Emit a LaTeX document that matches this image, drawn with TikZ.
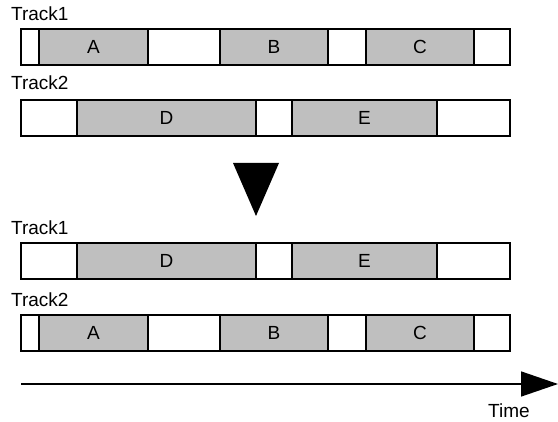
\documentclass[tikz,border=0pt]{standalone}
\usepackage{fontspec}
\setmainfont{Liberation Sans}
\usepackage{tikz}
\usetikzlibrary{arrows.meta}

% segments of a track: left/right/fill/label
\newcommand{\segsABC}{21/39/white/{}, 39/148/black!25/A, 148/220/white/{},
  220/328/black!25/B, 328/366/white/{}, 366/474/black!25/C, 474/510/white/{}}
\newcommand{\segsDE}{21/77/white/{}, 77/256/black!25/D, 256/292/white/{},
  292/437/black!25/E, 437/510/white/{}}

\begin{document}
\begin{tikzpicture}[x=1pt, y=-1pt,
    seg/.style={draw, line width=1.5pt, minimum height=36pt, inner sep=0pt,
                font=\fontsize{19}{21}\selectfont},
    lbl/.style={anchor=base west, inner sep=0pt, font=\fontsize{19}{21}\selectfont},
    arrow/.style={-{Triangle[length=37pt, width=25pt]}, line width=1.5pt}
  ]
    \useasboundingbox (0,0) rectangle (558,422);

    % before
    \node[lbl] (uponelbl) at (11,21) {Track1};
    \foreach \l/\r/\f/\t [count=\i] in \segsABC
      \node[seg, fill=\f, minimum width={\r-\l}] (upone-\i) at ({(\l+\r)/2},47) {\t};
    \node[lbl] (uptwolbl) at (11,90) {Track2};
    \foreach \l/\r/\f/\t [count=\i] in \segsDE
      \node[seg, fill=\f, minimum width={\r-\l}] (uptwo-\i) at ({(\l+\r)/2},118) {\t};

    \fill (233,163) -- (279,163) -- (256,216) -- cycle;

    % after
    \node[lbl] (lowonelbl) at (11,235) {Track1};
    \foreach \l/\r/\f/\t [count=\i] in \segsDE
      \node[seg, fill=\f, minimum width={\r-\l}] (lowone-\i) at ({(\l+\r)/2},261) {\t};
    \node[lbl] (lowtwolbl) at (11,307) {Track2};
    \foreach \l/\r/\f/\t [count=\i] in \segsABC
      \node[seg, fill=\f, minimum width={\r-\l}] (lowtwo-\i) at ({(\l+\r)/2},333) {\t};

    % time axis
    \coordinate (tstart) at (21,384);
    \coordinate (tend) at (558,384);
    \draw[arrow] (tstart) -- (tend);
    \node[anchor=base, inner sep=0pt, font=\fontsize{19}{21}\selectfont] (timelbl) at (509,418) {Time};
  \end{tikzpicture}
\end{document}
